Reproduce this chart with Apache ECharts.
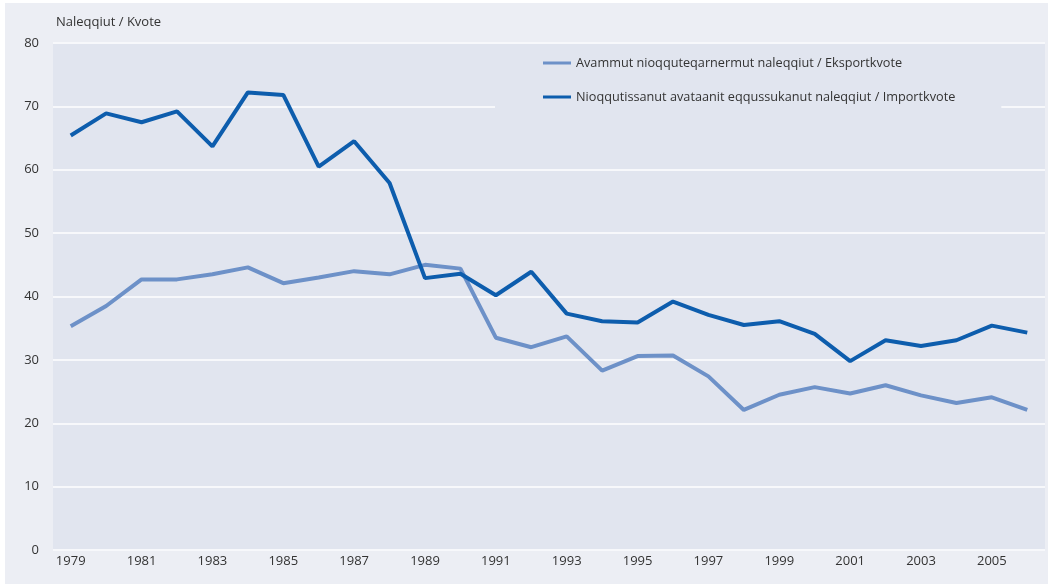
<!DOCTYPE html>
<html>
<head>
<meta charset="utf-8">
<script src="https://cdn.jsdelivr.net/npm/echarts@6/dist/echarts.min.js"></script>
<style>
  html, body { margin: 0; padding: 0; background: #ffffff; }
  #panel { position: absolute; left: 5px; top: 3px; width: 1043px; height: 581px; background: #eceef4; }
  #chart { width: 100%; height: 100%; }
</style>
</head>
<body>
<div id="panel"><div id="chart"></div></div>
<script>
  const years = [
    '1979', '1980', '1981', '1982', '1983', '1984', '1985', '1986', '1987', '1988',
    '1989', '1990', '1991', '1992', '1993', '1994', '1995', '1996', '1997', '1998',
    '1999', '2000', '2001', '2002', '2003', '2004', '2005', '2006'
  ];

  // Eksportkvote
  const exportQuota = [
    35.3, 38.5, 42.7, 42.7, 43.5, 44.6, 42.1, 43.0, 44.0, 43.5,
    45.0, 44.4, 33.5, 32.0, 33.7, 28.3, 30.6, 30.7, 27.4, 22.1,
    24.5, 25.7, 24.7, 26.0, 24.4, 23.2, 24.1, 22.1
  ];

  // Importkvote
  const importQuota = [
    65.4, 68.9, 67.5, 69.2, 63.7, 72.2, 71.8, 60.5, 64.5, 57.9,
    42.9, 43.6, 40.2, 43.9, 37.3, 36.1, 35.9, 39.2, 37.1, 35.5,
    36.1, 34.1, 29.8, 33.1, 32.2, 33.1, 35.4, 34.3
  ];

  const exportName = 'Avammut nioqquteqarnermut naleqqiut / Eksportkvote';
  const importName = 'Nioqqutissanut avataanit eqqussukanut naleqqiut / Importkvote';

  const font = '"Open Sans", sans-serif';
  const chart = echarts.init(document.getElementById('chart'));

  chart.setOption({
    backgroundColor: 'transparent',
    textStyle: { fontFamily: font },
    title: {
      text: 'Naleqqiut / Kvote',
      left: 46,
      top: 8,
      textStyle: { fontSize: 13, fontWeight: 'normal', color: '#333333', fontFamily: font }
    },
    legend: {
      orient: 'vertical',
      left: 490,
      top: 41,
      padding: [11, 46, 10, 48],
      itemGap: 18,
      itemWidth: 28,
      itemHeight: 3,
      icon: 'rect',
      backgroundColor: '#e1e5ef',
      textStyle: { fontSize: 12.7, color: '#333333', lineHeight: 16, fontFamily: font },
      data: [exportName, importName]
    },
    grid: {
      left: 48,
      right: 3,
      top: 40,
      bottom: 34,
      show: true,
      backgroundColor: '#e1e5ef',
      borderWidth: 0
    },
    xAxis: {
      type: 'category',
      data: years,
      boundaryGap: true,
      axisLine: { show: false },
      axisTick: { show: false },
      axisLabel: { interval: 1, margin: 5, fontSize: 13, color: '#333333', fontFamily: font }
    },
    yAxis: {
      type: 'value',
      min: 0,
      max: 80,
      interval: 10,
      axisLine: { show: false },
      axisTick: { show: false },
      axisLabel: { margin: 14, fontSize: 13, color: '#333333', fontFamily: font },
      splitLine: { lineStyle: { color: '#f7f8fb', width: 2 } }
    },
    series: [
      {
        name: exportName,
        type: 'line',
        data: exportQuota,
        symbol: 'none',
        color: '#6d91c8',
        lineStyle: { width: 4, color: '#6d91c8' }
      },
      {
        name: importName,
        type: 'line',
        data: importQuota,
        symbol: 'none',
        color: '#0d5dad',
        lineStyle: { width: 4, color: '#0d5dad' }
      }
    ]
  });
</script>
</body>
</html>
